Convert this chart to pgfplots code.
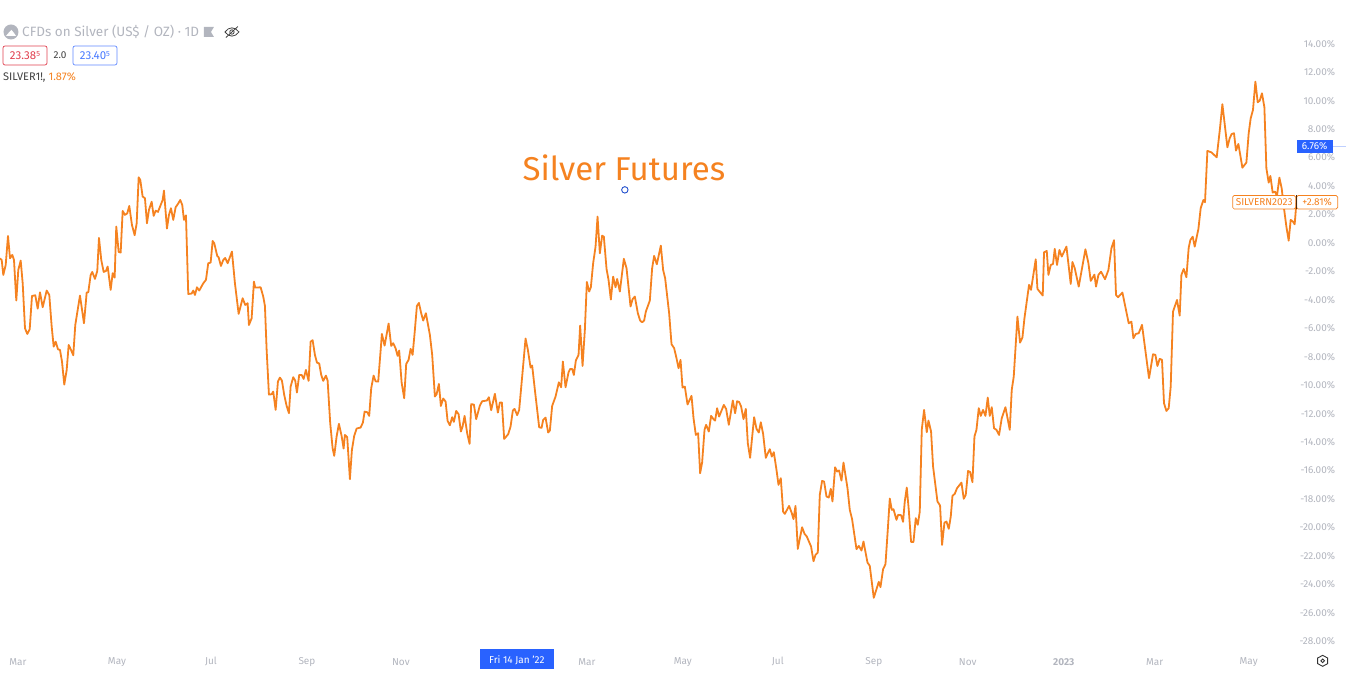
\documentclass[border=0pt]{standalone}
\usepackage{fontspec}
\setmainfont{Fira Sans}
\usepackage{pgfplots}
\pgfplotsset{compat=1.18}
\usepackage{pgfplotstable}

\definecolor{silver}{HTML}{F58220}
\definecolor{tvgray}{HTML}{B2B5BE}
\definecolor{tvblue}{HTML}{2962FF}
\definecolor{tvred}{HTML}{E0404F}

% percent change, x is pixel position on the time axis
\pgfplotstableread{
x y
0 -1.08
1.7 -1.20
3.3 -2.25
5.7 -1.55
8 0.49
10 -1.08
12.3 -0.84
14 -1.20
16.3 -4.05
18.3 -1.90
20.7 -1.24
22.7 -2.84
25 -6.00
27.3 -6.40
29.7 -6.07
32 -3.73
35.3 -3.68
37.7 -4.62
40 -3.47
42.7 -4.52
46.7 -3.35
49.3 -3.66
51.7 -5.88
53.7 -7.29
55.7 -6.94
58 -7.48
60 -7.52
62 -8.34
64.3 -9.96
66.7 -8.93
68.7 -7.17
71 -7.52
73.3 -7.90
75.3 -5.77
80 -3.70
84 -5.65
86.7 -3.49
88.3 -3.47
90.7 -2.25
92.3 -2.04
95 -2.53
97.3 -1.97
99 0.35
101.3 -1.20
103.7 -2.04
106 -1.97
107.7 -1.66
110.7 -3.30
112.7 -2.13
114.7 -2.44
116.3 1.15
118.7 -0.63
120.7 -0.68
122.7 2.25
125 1.97
127.3 2.08
129.3 2.60
132 1.26
134.7 0.54
136.7 1.38
138.7 4.61
140.3 4.43
142.7 3.26
145 3.14
147 1.38
149 2.32
151.7 2.90
153.7 1.90
155.7 2.27
158 2.18
162.7 3.02
164 3.68
167 1.01
169 1.97
171 2.44
173.3 1.62
175.7 2.51
178 2.74
180.3 3.02
182.3 2.67
184 1.62
186 1.94
188.3 -3.59
191.7 -3.56
193.3 -3.35
195 -3.66
197 -3.12
199.3 -3.35
203.3 -2.84
206 -2.60
208.3 -1.43
210.7 -1.38
212.7 0.14
214.3 -0.02
217.3 -0.92
218.7 -1.01
221 -1.62
223.3 -1.20
225.3 -1.06
227.7 -1.43
232 -0.61
235 -2.84
238.7 -4.99
242.7 -3.89
245.3 -4.36
247.7 -4.24
249 -5.77
251.7 -5.30
254 -2.72
255.3 -3.14
260.7 -3.12
263.3 -3.77
265 -4.43
266.7 -7.52
269 -10.66
271.7 -10.64
273.3 -10.45
275.7 -11.74
278 -9.75
280 -9.47
282 -9.68
284.3 -10.69
286.7 -11.46
289 -11.97
290.7 -10.10
293.3 -9.44
295.3 -9.68
297 -10.52
299.3 -9.28
301.7 -9.28
303.7 -9.56
306 -8.93
308.7 -9.70
310.7 -6.94
312.7 -6.84
315 -7.87
317 -8.41
319.3 -8.48
321.3 -9.28
323.3 -9.70
326 -9.33
327.7 -9.68
330.3 -12.68
332.7 -14.43
334.3 -14.97
336.7 -13.61
339 -12.72
341.7 -13.57
343.7 -14.46
345 -13.50
347.3 -13.66
350 -16.61
352 -14.55
354.3 -13.57
356.7 -13.05
360.7 -12.98
363 -12.63
364.7 -11.86
367.3 -11.90
369.3 -12.16
371.3 -10.22
373.7 -9.33
375.7 -9.73
378.3 -9.75
382 -6.40
384.7 -7.22
388.7 -5.67
391.3 -7.24
393.3 -7.05
395.7 -7.41
397.7 -7.94
399.3 -7.57
401.7 -9.80
404.3 -10.92
406.3 -8.51
408.7 -8.22
410.7 -7.45
412.7 -7.87
414.7 -6.35
417 -4.43
419 -4.22
421.3 -4.94
423.3 -5.46
426 -4.94
430 -6.47
432.3 -7.87
435 -10.80
436.7 -10.64
439 -9.91
441 -11.46
443.3 -10.94
445.7 -11.15
447.7 -12.51
450 -12.82
452.3 -12.25
454 -12.58
456.3 -11.81
458.7 -12.04
461 -13.26
462.7 -12.91
464.7 -12.16
467.3 -13.38
469.7 -14.13
471.3 -11.34
474 -11.36
476.3 -12.39
480 -11.43
482.3 -11.13
487 -11.08
489 -10.85
491.3 -11.76
495 -10.61
498 -11.93
500 -11.22
502 -11.22
504.3 -13.78
508.3 -13.45
510.7 -12.91
513 -11.78
514.7 -11.67
517.3 -12.11
519.3 -11.74
522.3 -9.40
525.7 -6.72
528 -7.52
530.7 -8.76
532.3 -8.62
535 -10.33
537.7 -11.97
539.3 -12.96
541.7 -13.00
543.3 -12.44
545.7 -12.28
548.3 -13.33
550 -13.19
552.3 -11.46
555.7 -10.80
559 -9.80
561.3 -10.15
563 -8.34
565.7 -10.15
568.7 -9.09
570.3 -8.86
572.3 -8.86
574 -9.28
576 -8.27
578.7 -7.87
580.3 -5.81
582.7 -8.65
585 -6.12
587 -2.74
589.3 -3.42
591 -3.12
593.3 -1.43
595.7 -0.26
597.7 1.85
600 -0.73
602.3 0.51
604 0.44
606.7 -1.83
608.7 -2.60
611 -3.98
613.3 -2.37
615.7 -3.12
617.3 -2.53
620 -3.42
624 -1.12
626.7 -1.78
630.7 -4.47
632.7 -3.96
635 -3.77
638 -4.94
640.3 -5.46
642.3 -5.58
644.3 -5.46
646 -4.83
650 -4.05
652.3 -1.78
654.3 -0.91
657 -1.50
661 -0.19
663.3 -1.90
665.3 -2.48
669.3 -4.94
671.7 -7.12
674.3 -7.40
676.7 -8.11
678.7 -8.81
680.7 -8.22
682.7 -10.17
685 -10.10
687.7 -11.36
691.7 -10.75
693.7 -12.32
696 -13.50
698.3 -13.38
700.3 -16.19
702.3 -15.44
704.7 -13.14
706.3 -12.79
709 -13.26
711.3 -12.16
713.7 -12.39
715.3 -12.49
717.3 -11.62
719.3 -12.21
724 -11.39
726.3 -11.67
729 -12.79
733 -11.08
735.3 -11.97
737.3 -11.13
739.3 -11.18
741.3 -11.50
743.7 -12.39
746 -11.67
748 -14.08
750.3 -15.11
754.3 -12.25
756.7 -13.07
759 -13.33
761 -12.61
763.3 -13.42
766 -15.11
768 -14.78
770 -14.50
772 -15.02
774 -14.71
776.7 -15.96
778.7 -17.01
781 -16.54
783.3 -18.89
785 -19.05
789.3 -18.49
792 -19.00
793.7 -19.42
795.7 -18.49
798 -21.51
802.3 -19.99
804.7 -20.45
807 -20.64
811.3 -21.35
813.7 -22.38
815.7 -21.93
818 -21.77
820 -17.71
822.3 -16.73
824.3 -16.78
826.7 -17.83
829 -17.90
831 -17.29
832.7 -18.18
835.3 -15.77
837.3 -16.07
839.3 -16.00
841.7 -16.71
843.7 -15.44
847.7 -17.24
850 -18.77
852.3 -19.42
856.7 -21.53
859 -21.30
861.7 -21.63
863.7 -20.99
867.7 -22.47
870 -22.70
874 -24.95
879 -23.83
880.7 -24.20
883.3 -22.94
885.7 -22.59
888 -20.17
890 -17.97
892 -18.77
893.7 -18.72
896.7 -19.47
898.3 -19.12
901.3 -19.14
903.3 -19.61
905 -18.18
907 -17.20
909 -18.77
911.3 -21.02
913.7 -21.02
916 -19.35
918 -19.82
920 -18.89
922 -13.14
924.3 -11.74
927 -13.31
928.7 -12.49
931.3 -13.26
933.3 -15.72
937.7 -18.18
940.3 -18.46
942.3 -21.23
944.7 -19.66
946.7 -19.59
949 -20.10
951 -19.24
952.7 -17.78
955 -17.64
957.3 -17.24
961.7 -16.85
964 -17.99
966 -17.71
968.3 -16.03
970.3 -16.10
972.7 -16.82
974.7 -13.61
976.7 -13.14
979 -11.62
981 -12.16
983.3 -11.74
985.7 -12.16
988 -10.87
990 -12.16
992 -11.55
994.3 -13.03
996.7 -13.14
999.3 -13.50
1002 -12.32
1005.7 -11.55
1010 -13.14
1012 -10.33
1014 -9.40
1017.7 -5.18
1020.3 -7.01
1022.7 -6.65
1024.7 -5.30
1029.3 -2.95
1031.3 -3.30
1036 -1.15
1037.7 -3.23
1043 -3.70
1044.3 -0.66
1047 -0.56
1048.7 -2.25
1051 -1.55
1053.3 -1.48
1055 -0.42
1057.3 -1.55
1059.7 -0.49
1062 -0.96
1066.7 -0.26
1071 -2.88
1072.7 -1.34
1075 -1.78
1079 -3.07
1085.7 -0.45
1088.7 -1.43
1091 -2.67
1094.7 -2.23
1096.3 -3.07
1098.7 -2.25
1101.3 -2.02
1105.3 -2.55
1108.7 -1.90
1111.7 -0.38
1114.3 0.19
1116.3 -3.66
1118.3 -3.82
1122.7 -3.49
1129 -5.65
1131.7 -5.53
1133.7 -6.70
1136 -6.40
1139 -6.35
1142.3 -5.76
1149.3 -9.51
1153.3 -7.83
1155.7 -7.87
1157.7 -8.65
1160 -8.15
1162.3 -8.22
1164.3 -11.27
1166.7 -11.81
1169 -11.62
1171 -10.10
1173.3 -4.83
1177.3 -4.01
1180 -5.11
1181.7 -2.25
1184 -1.83
1186.7 -2.41
1189 -0.33
1190.7 0.21
1193 0.44
1195 -0.26
1198.7 0.98
1201 2.44
1203.7 3.02
1205.3 2.86
1207.7 6.47
1211.7 6.37
1217 6.02
1220.3 8.06
1222.7 9.75
1227.7 6.72
1230 7.36
1232 7.66
1234.3 7.71
1236.3 6.49
1238.7 6.96
1242.7 5.29
1246.7 5.65
1249 7.71
1251 8.76
1253.3 9.35
1255.7 11.34
1258 9.89
1260 10.00
1262.3 10.52
1264.7 9.54
1266.7 5.25
1269 4.24
1270.7 4.71
1273 3.54
1275.3 3.61
1277.3 3.30
1279.7 4.59
1282 3.84
1284.3 2.44
1286.7 1.15
1289 0.16
1291 1.62
1293.3 1.50
1295 1.31
1296.7 2.79
}\silverdata

\begin{document}
\begin{tikzpicture}
  \begin{axis}[
    scale only axis,
    width=1346pt, height=691pt,
    xmin=0, xmax=1346,
    ymin=-31.49, ymax=17.08,
    axis line style={draw=none},
    tick style={draw=none},
    major tick length=0pt,
    xtick={18,117,211,307,401,587,683,778,874,968,1064,1155,1249},
    xticklabels={Mar,May,Jul,Sep,Nov,Mar,May,Jul,Sep,Nov,\textbf{2023},Mar,May},
    x tick label style={anchor=center, yshift=29pt, font=\fontsize{10}{12}\selectfont, text=tvgray},
    ytick={-28,-26,...,14},
    yticklabel pos=right,
    yticklabel={\pgfmathprintnumber[fixed,fixed zerofill,precision=2,assume math mode=true]{\tick}\%},
    y tick label style={anchor=east, xshift=-7pt, font=\fontsize{10}{12}\selectfont, text=tvgray},
  ]
    \addplot[silver, line width=1.8pt, line join=round] table[x=x,y=y] {\silverdata};
    % anchor point of the text note
    \addplot[only marks, mark=o, mark size=3.2pt, mark options={draw=tvblue!80!black, line width=0.9pt, fill=white}]
      coordinates {(625,3.73)};
  \end{axis}

  % overlays, positions in image pixels from the top left
  \begin{scope}[x=1pt, y=-1pt, shift={(0pt,691pt)}]
    \node[text=silver, font=\fontsize{33}{38}\selectfont] at (624,168) {Silver Futures};

    % header
    \fill[tvgray] (11,32) circle (7.5);
    \fill[white] (6,36) -- (16,36) -- (14,33) -- (11.5,30) -- (8.5,33) -- cycle;
    \node[anchor=west, text=tvgray, inner sep=0pt, font=\fontsize{13.5}{16}\selectfont] at (22,32) {CFDs on Silver (US\$ / OZ) · 1D};
    \fill[tvgray] (204,27) -- (214,27) -- (211,32) -- (214,37) -- (204,37) -- cycle;
    \draw[black!75, line width=0.8pt] (225,32) .. controls (229,26.5) and (235,26.5) .. (239,32) .. controls (235,37.5) and (229,37.5) .. (225,32) -- cycle;
    \draw[black!75, line width=0.8pt] (232,32) circle (2.2);
    \draw[black!75, line width=0.8pt] (226,37.5) -- (238,26.5);

    \draw[tvred, line width=0.7pt, rounded corners=2pt] (3,46) rectangle (47,65);
    \node[text=tvred, font=\fontsize{11.5}{13}\selectfont] at (25,55.5) {23.38\raisebox{2.5pt}{\fontsize{7.5}{8}\selectfont 5}};
    \node[text=black!75, font=\fontsize{10}{12}\selectfont] at (60,55.5) {2.0};
    \draw[tvblue!75, line width=0.7pt, rounded corners=2pt] (73,46) rectangle (117,65);
    \node[text=tvblue!85, font=\fontsize{11.5}{13}\selectfont] at (95,55.5) {23.40\raisebox{2.5pt}{\fontsize{7.5}{8}\selectfont 5}};
    \node[anchor=west, inner sep=0pt, font=\fontsize{11}{13}\selectfont, text=black!75] at (3,78) {SILVER1!, \textcolor{silver}{1.87\%}};

    % price scale tags
    \draw[tvblue!30, line width=0.7pt] (1332,146) -- (1346,146);
    \fill[tvblue] (1297,140) rectangle (1333,153);
    \node[text=white, font=\fontsize{10}{12}\selectfont] at (1315,146.5) {6.76\%};
    \draw[silver, fill=white, line width=0.7pt, rounded corners=1.5pt] (1233,195.5) rectangle (1296,209);
    \draw[silver, fill=white, line width=0.7pt, rounded corners=1.5pt] (1297,195.5) rectangle (1338,209);
    \draw[black!70!silver, line width=1pt] (1296.5,195.5) -- (1296.5,209);
    \node[text=silver, font=\fontsize{10}{12}\selectfont] at (1264.5,202.5) {SILVERN2023};
    \node[text=silver, font=\fontsize{10}{12}\selectfont] at (1317.5,202.5) {+2.81\%};

    % crosshair date tag and settings button
    \fill[tvblue] (480,649) rectangle (554,669);
    \node[text=white, font=\fontsize{10}{12}\selectfont] at (517,660) {Fri 14 Jan '22};
    \draw[black!80, line width=0.9pt] (1323,655.5) -- (1328,658.2) -- (1328,663.8) -- (1323,666.5) -- (1318,663.8) -- (1318,658.2) -- cycle;
    \draw[black!80, line width=0.9pt] (1323,661) circle (1.8);
  \end{scope}
\end{tikzpicture}
\end{document}
